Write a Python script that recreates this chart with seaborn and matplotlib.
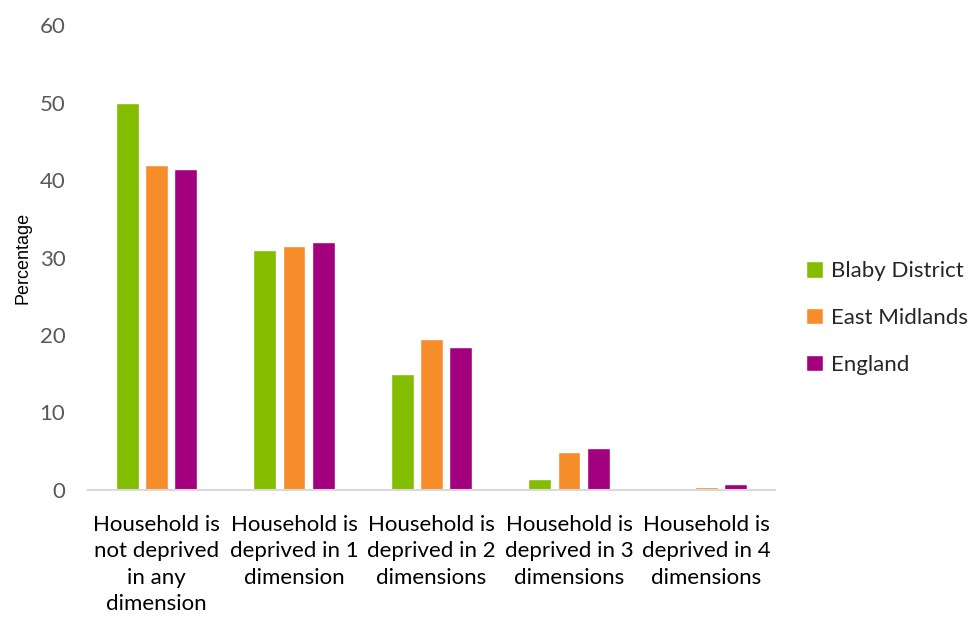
import numpy as np
import matplotlib.pyplot as plt
import seaborn as sns
import pandas as pd

categories = ['Household is\nnot deprived\nin any\ndimension',
              'Household is\ndeprived in 1\ndimension',
              'Household is\ndeprived in 2\ndimensions',
              'Household is\ndeprived in 3\ndimensions',
              'Household is\ndeprived in 4\ndimensions']
series = ['Blaby District', 'East Midlands', 'England']
blaby = [50, 31, 15, 1.4, 0.1]
east_midlands = [42, 31.5, 19.5, 4.9, 0.4]
england = [41.5, 32, 18.5, 5.4, 0.7]
colors = ['#84BD00', '#F68D2A', '#A2007E']

df = pd.DataFrame({
    'category': categories * 3,
    'area': [s for s in series for _ in categories],
    'value': blaby + east_midlands + england,
})

sns.set_style('white')
plt.rcParams['font.family'] = ['Lato', 'DejaVu Sans']

fig = plt.figure(figsize=(9.74, 6.17), dpi=100)
ax = fig.add_axes([0.090, 0.206, 0.706, 0.753])
sns.barplot(data=df, x='category', y='value', hue='area', palette=colors,
            width=0.64, saturation=1, ax=ax, legend=True)

# shrink bars to leave small gaps inside each group
for p in ax.patches:
    w = p.get_width()
    if w > 0:
        p.set_x(p.get_x() + w * 0.11)
        p.set_width(w * 0.78)

ax.set_ylim(0, 60)
ax.set_yticks(range(0, 61, 10))
ax.set_xlabel('')
ax.set_ylabel('Percentage', fontsize=13, family='Liberation Sans', color='black', labelpad=6)
ax.tick_params(axis='y', labelsize=16, labelcolor='#595959', length=0, pad=16)
ax.tick_params(axis='x', labelsize=16, labelcolor='black', length=0, pad=18)
for lbl in ax.get_xticklabels():
    lbl.set_linespacing(1.4)
for s in ['top', 'right', 'left']:
    ax.spines[s].set_visible(False)
ax.spines['bottom'].set_color('#D9D9D9')
ax.spines['bottom'].set_linewidth(1.5)

leg = ax.legend(loc='center left', bbox_to_anchor=(1.045, 0.37), frameon=False,
                fontsize=16, handlelength=0.75, handleheight=0.75,
                handletextpad=0.35, labelspacing=1.2, borderpad=0, borderaxespad=0)

fig.savefig('out.png', dpi=100)
